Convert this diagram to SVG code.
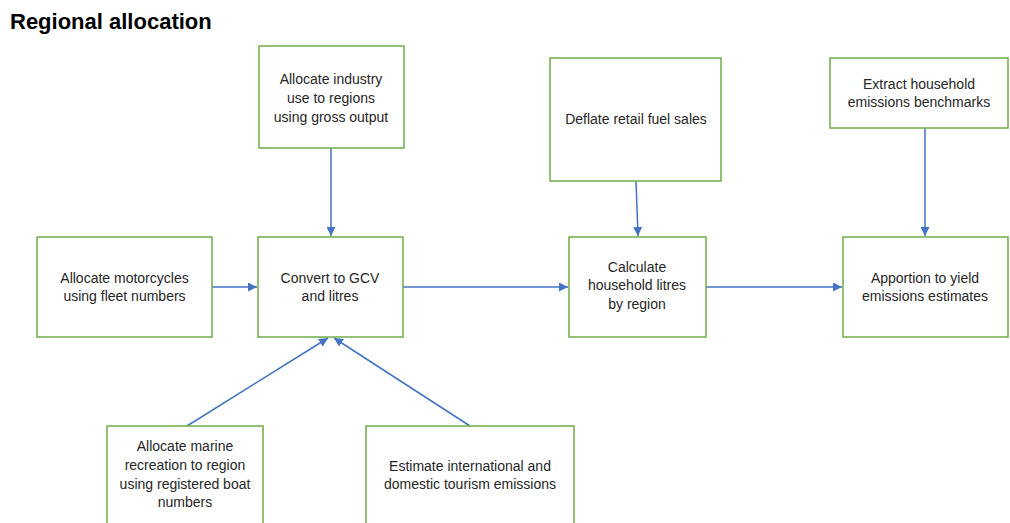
<svg xmlns="http://www.w3.org/2000/svg" width="1010" height="523" viewBox="0 0 1010 523">
<style>
.box{fill:#fff;stroke:#70AD47;stroke-width:1.5}
.t{font-family:"Liberation Sans",Arial,sans-serif;font-size:14px;fill:#262626;text-anchor:middle}
.title{font-family:"Liberation Sans",Arial,sans-serif;font-size:22px;font-weight:bold;fill:#000}
.c{stroke:#4472C4;stroke-width:1.5;fill:none;marker-end:url(#ah)}
</style>
<defs>
<marker id="ah" viewBox="0 0 10 10" refX="10" refY="5" markerWidth="6" markerHeight="6" markerUnits="strokeWidth" orient="auto">
<path d="M0,0 L10,5 L0,10 z" fill="#4472C4"/>
</marker>
</defs>
<rect width="1010" height="523" fill="#fff"/>
<text class="title" x="10" y="29">Regional allocation</text>
<g id="connectors">
<line class="c" x1="331" y1="148" x2="331" y2="236"/>
<line class="c" x1="636" y1="181" x2="638" y2="236"/>
<line class="c" x1="925" y1="128" x2="925" y2="236"/>
<line class="c" x1="212" y1="287" x2="257" y2="287"/>
<line class="c" x1="403" y1="287" x2="568" y2="287"/>
<line class="c" x1="706" y1="287" x2="842" y2="287"/>
<line class="c" x1="187" y1="426" x2="328" y2="338"/>
<line class="c" x1="470" y1="426" x2="334" y2="338"/>
</g>
<g id="industry">
<rect class="box" x="259" y="46" width="145" height="102"/>
<text class="t" x="331" y="84">Allocate industry</text>
<text class="t" x="331" y="103">use to regions</text>
<text class="t" x="331" y="122">using gross output</text>
</g>
<g id="deflate">
<rect class="box" x="550" y="58" width="171" height="123"/>
<text class="t" x="636" y="124">Deflate retail fuel sales</text>
</g>
<g id="extract">
<rect class="box" x="830" y="58" width="178" height="70"/>
<text class="t" x="919" y="89">Extract household</text>
<text class="t" x="919" y="107">emissions benchmarks</text>
</g>
<g id="motorcycles">
<rect class="box" x="37" y="237" width="175" height="100"/>
<text class="t" x="124.5" y="283">Allocate motorcycles</text>
<text class="t" x="124.5" y="301">using fleet numbers</text>
</g>
<g id="convert">
<rect class="box" x="258" y="237" width="145" height="100"/>
<text class="t" x="330" y="283">Convert to GCV</text>
<text class="t" x="330" y="301">and litres</text>
</g>
<g id="calculate">
<rect class="box" x="569" y="237" width="137" height="100"/>
<text class="t" x="637" y="272">Calculate</text>
<text class="t" x="637" y="290">household litres</text>
<text class="t" x="637" y="309">by region</text>
</g>
<g id="apportion">
<rect class="box" x="843" y="237" width="165" height="100"/>
<text class="t" x="925" y="283">Apportion to yield</text>
<text class="t" x="925" y="301">emissions estimates</text>
</g>
<g id="marine">
<rect class="box" x="107" y="426" width="156" height="110"/>
<text class="t" x="185" y="451">Allocate marine</text>
<text class="t" x="185" y="470">recreation to region</text>
<text class="t" x="185" y="489">using registered boat</text>
<text class="t" x="185" y="507">numbers</text>
</g>
<g id="tourism">
<rect class="box" x="366" y="426" width="208" height="110"/>
<text class="t" x="470" y="471">Estimate international and</text>
<text class="t" x="470" y="489">domestic tourism emissions</text>
</g>
</svg>
